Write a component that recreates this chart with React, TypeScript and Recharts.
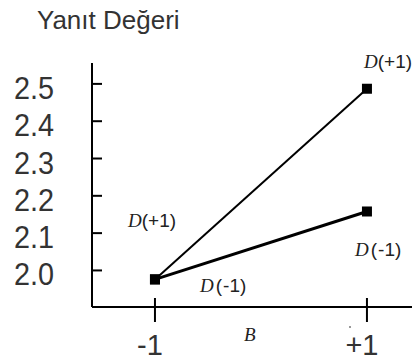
import { LineChart, Line, XAxis, YAxis } from "recharts";

// factor B levels and mean response for each level of D
const bLevels = [-1, 1];
const dPlus = [1.976, 2.487];
const dMinus = [1.976, 2.158];

const yTicks = [2.0, 2.1, 2.2, 2.3, 2.4, 2.5];
const xTickLabels: Record<number, string> = { [-1]: "-1", [1]: "+1" };

const data = bLevels.map((b, i) => ({ b, plus: dPlus[i], minus: dMinus[i] }));

const SANS = "'Liberation Sans', Arial, sans-serif";
const SERIF = "'Liberation Serif', 'Times New Roman', serif";

function YTick(props: any) {
    const { x, y, payload } = props;
    // labels are a little narrow, so squeeze them horizontally around x=14
    return (
        <g>
            <line x1={x} y1={y} x2={x + 10} y2={y} stroke="#000" strokeWidth={2} />
            <text
                x={0}
                y={y + 15}
                transform="translate(14,0) scale(0.9,1)"
                fontFamily={SANS}
                fontSize={32}
                fill="#333"
            >
                {Number(payload.value).toFixed(1)}
            </text>
        </g>
    );
}

function XTick(props: any) {
    const { x, y, payload } = props;
    return (
        <g>
            <line x1={x} y1={y - 9} x2={x} y2={y + 15} stroke="#000" strokeWidth={2} />
            <text
                x={x - 5}
                y={y + 48}
                textAnchor="middle"
                fontFamily={SANS}
                fontSize={29}
                fill="#333"
            >
                {xTickLabels[payload.value]}
            </text>
        </g>
    );
}

function SquareDot(props: any) {
    const { cx, cy, index, dataKey } = props;
    return (
        <rect key={`${dataKey}-${index}`} x={cx - 5} y={cy - 5} width={10} height={10} fill="#000" />
    );
}

// italic serif "D" followed by the level in sans
function DLabel({ x, y, level }: { x: number; y: number; level: string }) {
    return (
        <text x={x} y={y} fontSize={19} fill="#222">
            <tspan fontFamily={SERIF} fontStyle="italic">D</tspan>
            <tspan fontFamily={SANS} dx={level === "-1" ? 2 : 0}>(</tspan>
            <tspan fontFamily={SANS} dx={level === "-1" ? 1 : 0}>{level})</tspan>
        </text>
    );
}

export default function App() {
    return (
        <div style={{ position: "absolute", left: 0, top: 0, width: 419, height: 360, background: "#fff" }}>
            <LineChart
                width={419}
                height={360}
                data={data}
                margin={{ top: 63, right: 7, bottom: 0, left: 0 }}
            >
                <XAxis
                    type="number"
                    dataKey="b"
                    domain={[-1.594, 1.425]}
                    ticks={bLevels}
                    interval={0}
                    height={53}
                    tickSize={0}
                    tickMargin={0}
                    tickLine={false}
                    tick={<XTick />}
                    axisLine={{ stroke: "#000", strokeWidth: 2 }}
                />
                <YAxis
                    type="number"
                    domain={[1.902, 2.556]}
                    ticks={yTicks}
                    interval={0}
                    width={92}
                    tickSize={0}
                    tickMargin={0}
                    tickLine={false}
                    tick={<YTick />}
                    axisLine={{ stroke: "#000", strokeWidth: 2 }}
                />
                <Line
                    dataKey="plus"
                    stroke="#000"
                    strokeWidth={2}
                    dot={SquareDot}
                    activeDot={false}
                    isAnimationActive={false}
                />
                <Line
                    dataKey="minus"
                    stroke="#000"
                    strokeWidth={3}
                    dot={SquareDot}
                    activeDot={false}
                    isAnimationActive={false}
                />
            </LineChart>
            <svg
                width={419}
                height={360}
                style={{ position: "absolute", left: 0, top: 0, pointerEvents: "none" }}
            >
                <text x={37} y={29} fontFamily={SANS} fontSize={26} fill="#333">
                    Yanıt Değeri
                </text>
                <DLabel x={364} y={68} level="+1" />
                <DLabel x={128} y={227} level="+1" />
                <DLabel x={200} y={292} level="-1" />
                <DLabel x={355} y={256} level="-1" />
                <text x={244} y={341} fontFamily={SERIF} fontStyle="italic" fontSize={19} fill="#222">
                    B
                </text>
                <circle cx={350} cy={327} r={1} fill="#777" />
            </svg>
        </div>
    );
}
